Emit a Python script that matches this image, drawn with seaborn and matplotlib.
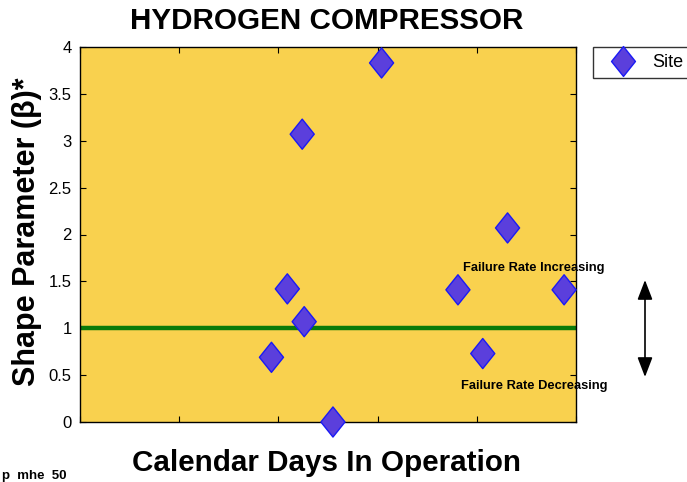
import numpy as np
import pandas as pd
import matplotlib
matplotlib.use("Agg")
import matplotlib.pyplot as plt
from matplotlib.path import Path
import seaborn as sns

# Weibull shape parameter per site vs. calendar days in operation
days = [1.93, 2.09, 2.24, 2.26, 2.55, 3.04, 3.81, 4.06, 4.31, 4.88]
beta = [0.69, 1.42, 3.07, 1.07, 0.00, 3.83, 1.41, 0.73, 2.07, 1.41]
y_ticks = [0, 0.5, 1, 1.5, 2, 2.5, 3, 3.5, 4]
y_tick_labels = ["0", "0.5", "1", "1.5", "2", "2.5", "3", "3.5", "4"]
x_ticks = [0, 1, 2, 3, 4, 5]
reference_beta = 1.0

df = pd.DataFrame({"days": days, "beta": beta, "group": "Site"})

sns.set_theme(style="white")
plt.rcParams["font.family"] = ["Liberation Sans", "DejaVu Sans"]
plt.rcParams.update({"text.color": "black", "axes.labelcolor": "black",
                     "xtick.color": "black", "ytick.color": "black"})

fig = plt.figure(figsize=(6.87, 4.82), dpi=100)
ax = fig.add_axes([80 / 687, 60 / 482, 496 / 687, 375 / 482])
ax.set_facecolor("#F9D14E")

# MATLAB-style diamond, slightly narrower than tall
diamond = Path([(0, 0.5), (0.4, 0), (0, -0.5), (-0.4, 0), (0, 0.5)],
               [Path.MOVETO, Path.LINETO, Path.LINETO, Path.LINETO, Path.CLOSEPOLY])

ax.axhline(reference_beta, color="#0A7A0A", lw=3.2, zorder=2)

sns.scatterplot(data=df, x="days", y="beta", hue="group", ax=ax,
                palette=["#5B3FDC"], marker=diamond, s=470,
                edgecolor="#1A1AF5", linewidth=1.0, zorder=3, clip_on=False,
                legend=False)

ax.set_xlim(0, 5)
ax.set_ylim(0, 4)
ax.set_xticks(x_ticks)
ax.set_xticklabels([])
ax.set_yticks(y_ticks)
ax.set_yticklabels(y_tick_labels, fontsize=12)
ax.tick_params(axis="both", direction="in", length=4, width=0.8, color="black",
               top=True, right=True, left=True, bottom=True, pad=6)
for s in ax.spines.values():
    s.set_visible(True)
    s.set_color("black")
    s.set_linewidth(1.0)

ax.set_xlabel("")
ax.set_ylabel("")
fig.text(327 / 687, 1 - 463 / 482, "Calendar Days In Operation", fontsize=21.3,
         fontweight="bold", ha="center", va="center")
fig.text(27 / 687, 1 - 232 / 482, "Shape Parameter (\u03b2)*", fontsize=22,
         fontweight="bold", ha="center", va="center", rotation=90)
fig.text(327 / 687, 1 - 21 / 482, "HYDROGEN COMPRESSOR", fontsize=21.3,
         fontweight="bold", ha="center", va="center")
fig.text(2 / 687, 1 - 476 / 482, "p  mhe  50", fontsize=9.5, fontweight="bold",
         ha="left", va="center")

# failure-rate annotations and double-headed arrow
fig.text(534 / 687, 1 - 268 / 482, "Failure Rate Increasing", fontsize=9.3,
         fontweight="bold", ha="center", va="center")
fig.text(534 / 687, 1 - 386 / 482, "Failure Rate Decreasing", fontsize=9.3,
         fontweight="bold", ha="center", va="center")
ax.annotate("", xy=(645 / 687, 1 - 280 / 482), xytext=(645 / 687, 1 - 377 / 482),
            xycoords="figure fraction", textcoords="figure fraction",
            arrowprops=dict(arrowstyle="<|-|>,head_length=0.6,head_width=0.23",
                            color="black", lw=1.2,
                            mutation_scale=20, shrinkA=0, shrinkB=0))

# legend box outside the axes
handle = plt.Line2D([], [], linestyle="none", marker=diamond, markersize=21.5,
                    markerfacecolor="#5B3FDC", markeredgecolor="#1A1AF5")
fig.legend([handle], ["Site"], loc="upper left",
           bbox_to_anchor=(593 / 687, 1 - 47 / 482), frameon=True,
           fancybox=False, edgecolor="black", fontsize=13, handlelength=2.55,
           borderpad=0.39, handletextpad=0.33, borderaxespad=0)

fig.savefig("out.png", dpi=100)
